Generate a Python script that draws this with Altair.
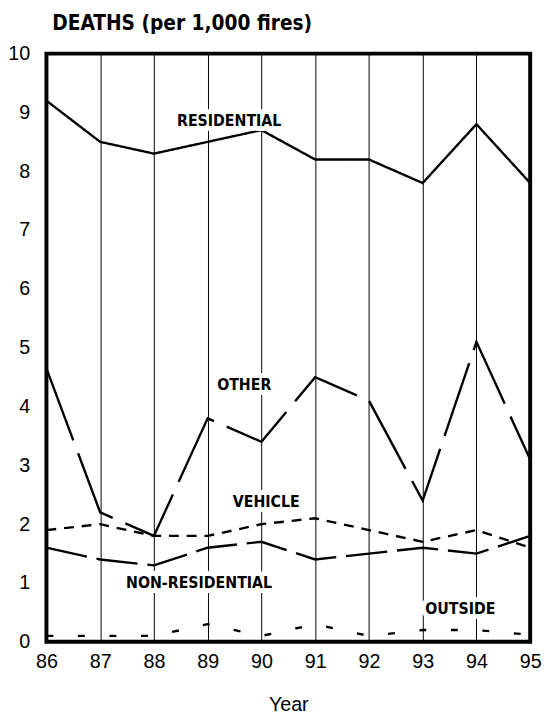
import altair as alt
import pandas as pd

# ---- data ----
years = [86, 87, 88, 89, 90, 91, 92, 93, 94, 95]
residential = [9.2, 8.5, 8.3, 8.5, 8.7, 8.2, 8.2, 7.8, 8.8, 7.8]
other = [4.65, 2.2, 1.8, 3.8, 3.4, 4.5, 4.1, 2.4, 5.1, 3.1]
vehicle = [1.9, 2.0, 1.8, 1.8, 2.0, 2.1, 1.9, 1.7, 1.9, 1.6]
non_residential = [1.6, 1.4, 1.3, 1.6, 1.7, 1.4, 1.5, 1.6, 1.5, 1.8]
outside = [0.1, 0.1, 0.1, 0.3, 0.1, 0.3, 0.1, 0.2, 0.2, 0.12]

series_names = ["RESIDENTIAL", "OTHER", "VEHICLE", "NON-RESIDENTIAL", "OUTSIDE"]
series_values = [residential, other, vehicle, non_residential, outside]
series_dash = [[1, 0], [78, 14], [10, 8], [42, 10], [7, 25]]

label_text = ["RESIDENTIAL", "OTHER", "VEHICLE", "NON-RESIDENTIAL", "OUTSIDE"]
label_year = [89.4, 89.68, 90.09, 88.84, 93.7]
label_value = [8.85, 4.37, 2.38, 1.0, 0.55]

y_ticks = list(range(0, 11))

AXIS_FONT = "Liberation Sans, Arial, sans-serif"
BOLD_FONT = "DejaVu Sans Condensed, Liberation Sans, sans-serif"

rows = []
for name, vals in zip(series_names, series_values):
    for yr, v in zip(years, vals):
        rows.append({"series": name, "year": yr, "value": v})
df = pd.DataFrame(rows)
labels_df = pd.DataFrame({"label": label_text, "year": label_year, "value": label_value})

x_enc = alt.X(
    "year:Q",
    scale=alt.Scale(domain=[86, 95], nice=False, zero=False),
    axis=alt.Axis(
        values=years, format="d", title="Year", grid=True, gridColor="black",
        gridWidth=1, gridOpacity=1, ticks=False, domain=False,
        labelFont=AXIS_FONT, labelFontSize=20, labelPadding=10, labelFlush=False,
        labelColor="black", titleFont=AXIS_FONT, titleFontSize=20,
        titleFontWeight="normal", titleColor="black", titlePadding=24,
    ),
)
y_enc = alt.Y(
    "value:Q",
    scale=alt.Scale(domain=[0, 10], nice=False),
    axis=alt.Axis(
        values=y_ticks, title=None, grid=False, ticks=False, domain=False,
        labelFont=AXIS_FONT, labelFontSize=20, labelPadding=17, labelColor="black",
    ),
)

layers = []
for name, dash in zip(series_names, series_dash):
    layers.append(
        alt.Chart(df)
        .transform_filter(alt.datum.series == name)
        .mark_line(color="black", strokeWidth=2.4, strokeDash=dash, strokeCap="butt")
        .encode(x=x_enc, y=y_enc)
    )

halo = alt.Chart(labels_df).mark_text(
    font=BOLD_FONT, fontSize=16, fontWeight="bold", color="white",
    stroke="white", strokeWidth=10, strokeJoin="round",
).encode(x=x_enc, y=y_enc, text="label:N")
text = alt.Chart(labels_df).mark_text(
    font=BOLD_FONT, fontSize=16, fontWeight="bold", color="black",
).encode(x=x_enc, y=y_enc, text="label:N")

chart = (
    alt.layer(*layers, halo, text)
    .properties(
        width=491,
        height=597,
        autosize="none",
        background="white",
        padding={"left": 39, "top": 41, "right": 12, "bottom": 71},
        title=alt.TitleParams(
            "DEATHS (per 1,000 fires)", anchor="start", frame="group",
            font=BOLD_FONT, fontSize=21, fontWeight="bold", color="black",
            offset=10, dx=6,
        ),
    )
    .configure_view(stroke="black", strokeWidth=4)
)

chart.save("out.html", embed_options={"renderer": "svg", "actions": False})
